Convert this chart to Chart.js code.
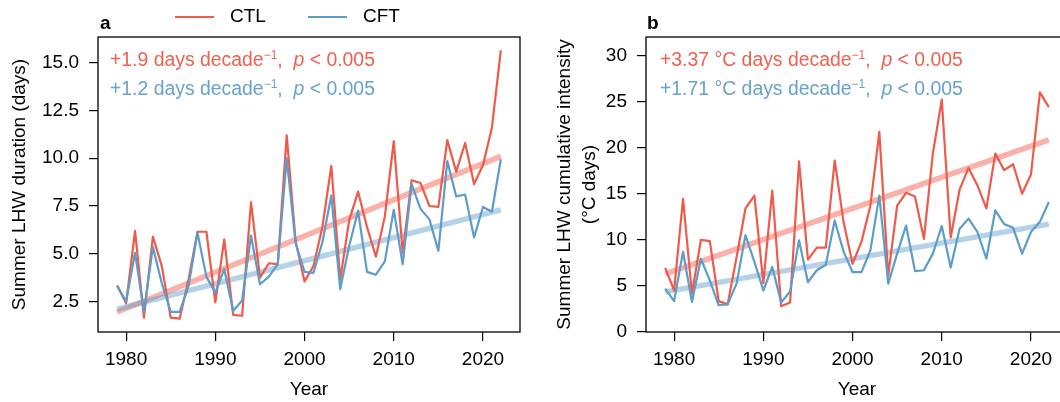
<!DOCTYPE html>
<html>
<head>
<meta charset="utf-8">
<script src="https://cdn.jsdelivr.net/npm/chart.js@4.4.0/dist/chart.umd.min.js"></script>
<style>
  body { margin: 0; width: 1060px; height: 402px; overflow: hidden; position: relative; background: #fff;
         font-family: "Liberation Sans", Arial, sans-serif; }
  canvas { position: absolute; top: 0; }
  #chartA { left: 0; }
  #chartB { left: 540px; }
  .txt { position: absolute; font-size: 19px; line-height: 22px; white-space: nowrap; }
  .note { font-size: 19.4px; }
  .txt sup { font-size: 12px; line-height: 0; vertical-align: 7px; }
  .red { color: #f0614f; }
  .blue { color: #69a2cc; }
  .key { position: absolute; height: 0; border-top: 2px solid; width: 39px; }
</style>
</head>
<body>
<canvas id="chartA" width="540" height="402"></canvas>
<canvas id="chartB" width="540" height="402"></canvas>

<div class="txt" style="left:100px;top:12px;font-weight:bold">a</div>
<div class="txt" style="left:647px;top:12px;font-weight:bold">b</div>

<div id="legend"></div>

<div class="txt note red" style="left:110px;top:48px">+1.9 days decade<sup>−1</sup>,&nbsp; <i>p</i> &lt; 0.005</div>
<div class="txt note blue" style="left:110px;top:77px">+1.2 days decade<sup>−1</sup>,&nbsp; <i>p</i> &lt; 0.005</div>
<div class="txt note red" style="left:660px;top:48px">+3.37 °C days decade<sup>−1</sup>,&nbsp; <i>p</i> &lt; 0.005</div>
<div class="txt note blue" style="left:660px;top:77px">+1.71 °C days decade<sup>−1</sup>,&nbsp; <i>p</i> &lt; 0.005</div>

<script>
// years on the x axis
var years = [1979, 1980, 1981, 1982, 1983, 1984, 1985, 1986, 1987, 1988, 1989,
  1990, 1991, 1992, 1993, 1994, 1995, 1996, 1997, 1998, 1999,
  2000, 2001, 2002, 2003, 2004, 2005, 2006, 2007, 2008, 2009,
  2010, 2011, 2012, 2013, 2014, 2015, 2016, 2017, 2018, 2019,
  2020, 2021, 2022];

// panel a: summer LHW duration (days)
var ctlDuration = [3.35, 2.4, 6.2, 1.65, 5.9, 4.35, 1.65, 1.6, 3.65, 6.15, 6.15,
  2.45, 5.75, 1.8, 1.75, 7.7, 3.75, 4.5, 4.45, 11.2, 5.65,
  3.55, 4.35, 6.4, 9.6, 3.65, 6.75, 8.25, 6.4, 4.85, 6.95,
  10.9, 5.05, 8.85, 8.7, 7.5, 7.45, 10.95, 9.3, 10.8, 8.65,
  9.65, 11.6, 15.65];
var cftDuration = [3.3, 2.5, 5.05, 1.95, 5.35, 3.45, 1.95, 1.95, 3.3, 6.1, 3.8,
  2.95, 4.2, 2.0, 2.55, 5.95, 3.4, 3.8, 4.45, 10.0, 5.55,
  4.05, 4.0, 5.6, 8.05, 3.15, 5.4, 7.25, 4.05, 3.9, 4.6,
  7.3, 4.45, 8.65, 7.35, 6.8, 5.15, 9.85, 8.0, 8.1, 5.85,
  7.45, 7.2, 9.95];

// panel b: summer LHW cumulative intensity (°C days)
var ctlIntensity = [6.95, 4.5, 14.45, 4.15, 10.0, 9.85, 3.35, 3.0, 8.1, 13.4, 14.8,
  5.3, 15.35, 2.8, 3.2, 18.5, 7.85, 9.15, 9.15, 18.6, 11.9,
  7.4, 9.8, 13.7, 21.7, 6.15, 13.7, 15.1, 14.7, 10.1, 19.35,
  25.2, 10.25, 15.45, 17.8, 15.9, 13.4, 19.35, 17.55, 18.2, 15.0,
  17.1, 26.0, 24.4];
var cftIntensity = [4.7, 3.35, 8.7, 3.25, 7.95, 5.6, 2.9, 3.0, 5.25, 10.5, 7.6,
  4.5, 7.05, 3.2, 4.4, 9.95, 5.4, 6.7, 7.3, 12.1, 8.7,
  6.5, 6.5, 8.85, 14.8, 5.25, 8.5, 11.55, 6.6, 6.7, 8.5,
  11.5, 7.0, 11.2, 12.3, 10.85, 7.95, 13.2, 11.7, 11.3, 8.5,
  10.85, 11.95, 14.1];

// linear trend lines, value at first and last year
var ctlDurationTrend = [1.95, 10.1];
var cftDurationTrend = [2.1, 7.3];
var ctlIntensityTrend = [6.3, 20.85];
var cftIntensityTrend = [4.35, 11.7];

// tick labels
var yearTicks = [1980, 1990, 2000, 2010, 2020];
var durationTicks = [2.5, 5.0, 7.5, 10.0, 12.5, 15.0];
var intensityTicks = [0, 5, 10, 15, 20, 25, 30];

var seriesNames = ['CTL', 'CFT'];

var red = '#ef5a4a';
var blue = '#5e9cc9';
var redLight = 'rgba(244, 100, 86, 0.5)';
var blueLight = 'rgba(100, 160, 205, 0.48)';
var fontFamily = '"Liberation Sans", Arial, sans-serif';

// legend above panel a
var legend = document.getElementById('legend');
[[seriesNames[0], red, 175], [seriesNames[1], blue, 308]].forEach(function (item) {
  var line = document.createElement('div');
  line.className = 'key';
  line.style.left = item[2] + 'px';
  line.style.top = '16px';
  line.style.borderColor = item[1];
  legend.appendChild(line);
  var label = document.createElement('div');
  label.className = 'txt';
  label.style.left = (item[2] + 55) + 'px';
  label.style.top = '5px';
  label.textContent = item[0];
  legend.appendChild(label);
});

// box round the plot area
var framePlugin = {
  id: 'frame',
  afterDatasetsDraw: function (chart) {
    var ctx = chart.ctx, a = chart.chartArea;
    ctx.save();
    ctx.strokeStyle = '#000';
    ctx.lineWidth = 1.3;
    ctx.strokeRect(a.left, a.top, a.right - a.left, a.bottom - a.top);
    ctx.restore();
  }
};

function makePanel(id, ctlVals, cftVals, ctlTrend, cftTrend, cfg) {
  var first = years[0], last = years[years.length - 1];
  return new Chart(id, {
    type: 'line',
    data: {
      labels: years,
      datasets: [
        { label: seriesNames[1], data: cftVals, borderColor: blue, borderWidth: 2.2,
          pointRadius: 0, borderJoinStyle: 'round', order: 0 },
        { label: seriesNames[0], data: ctlVals, borderColor: red, borderWidth: 2.2,
          pointRadius: 0, borderJoinStyle: 'round', order: 1 },
        { label: 'CFT trend', data: [{ x: first, y: cftTrend[0] }, { x: last, y: cftTrend[1] }],
          borderColor: blueLight, borderWidth: 5.5, pointRadius: 0, order: 2 },
        { label: 'CTL trend', data: [{ x: first, y: ctlTrend[0] }, { x: last, y: ctlTrend[1] }],
          borderColor: redLight, borderWidth: 5.5, pointRadius: 0, order: 3 }
      ]
    },
    options: {
      responsive: false,
      animation: false,
      devicePixelRatio: 1,
      layout: { padding: { top: 37, right: cfg.padRight, left: 0, bottom: 0 } },
      plugins: { legend: { display: false }, tooltip: { enabled: false } },
      scales: {
        x: {
          type: 'linear', min: 1976.85, max: 2024.15,
          afterBuildTicks: function (s) { s.ticks = yearTicks.map(function (v) { return { value: v }; }); },
          afterFit: function (s) { s.height = 70; },
          grid: { drawOnChartArea: false, tickLength: 9, color: '#000', lineWidth: 1.2 },
          border: { display: false },
          ticks: { padding: 7, color: '#000', maxRotation: 0, autoSkip: false,
                   font: { family: fontFamily, size: 19 },
                   callback: function (v) { return String(v); } },
          title: { display: true, text: 'Year', color: '#000',
                   font: { family: fontFamily, size: 19 }, padding: { top: 0, bottom: 1 } }
        },
        y: {
          min: cfg.yMin, max: cfg.yMax,
          afterBuildTicks: function (s) { s.ticks = cfg.ticks.map(function (v) { return { value: v }; }); },
          afterFit: function (s) { s.width = cfg.axisWidth; },
          grid: { drawOnChartArea: false, tickLength: 9, color: '#000', lineWidth: 1.2 },
          border: { display: false },
          ticks: { padding: 10, color: '#000', autoSkip: false,
                   font: { family: fontFamily, size: 19 },
                   callback: cfg.format },
          title: { display: true, text: cfg.title, color: '#000',
                   font: { family: fontFamily, size: 19, lineHeight: 1.316 },
                   padding: { top: cfg.titlePad, bottom: 0 } }
        }
      }
    },
    plugins: [framePlugin]
  });
}

makePanel('chartA', ctlDuration, cftDuration, ctlDurationTrend, cftDurationTrend, {
  yMin: 0.9, yMax: 16.35, ticks: durationTicks, axisWidth: 98, padRight: 20, titlePad: 7,
  title: 'Summer LHW duration (days)',
  format: function (v) { return v.toFixed(1); }
});

makePanel('chartB', ctlIntensity, cftIntensity, ctlIntensityTrend, cftIntensityTrend, {
  yMin: 0, yMax: 32, ticks: intensityTicks, axisWidth: 106, padRight: 12, titlePad: 12.5,
  title: ['Summer LHW cumulative intensity', '(°C days)'],
  format: function (v) { return String(v); }
});
</script>
</body>
</html>
